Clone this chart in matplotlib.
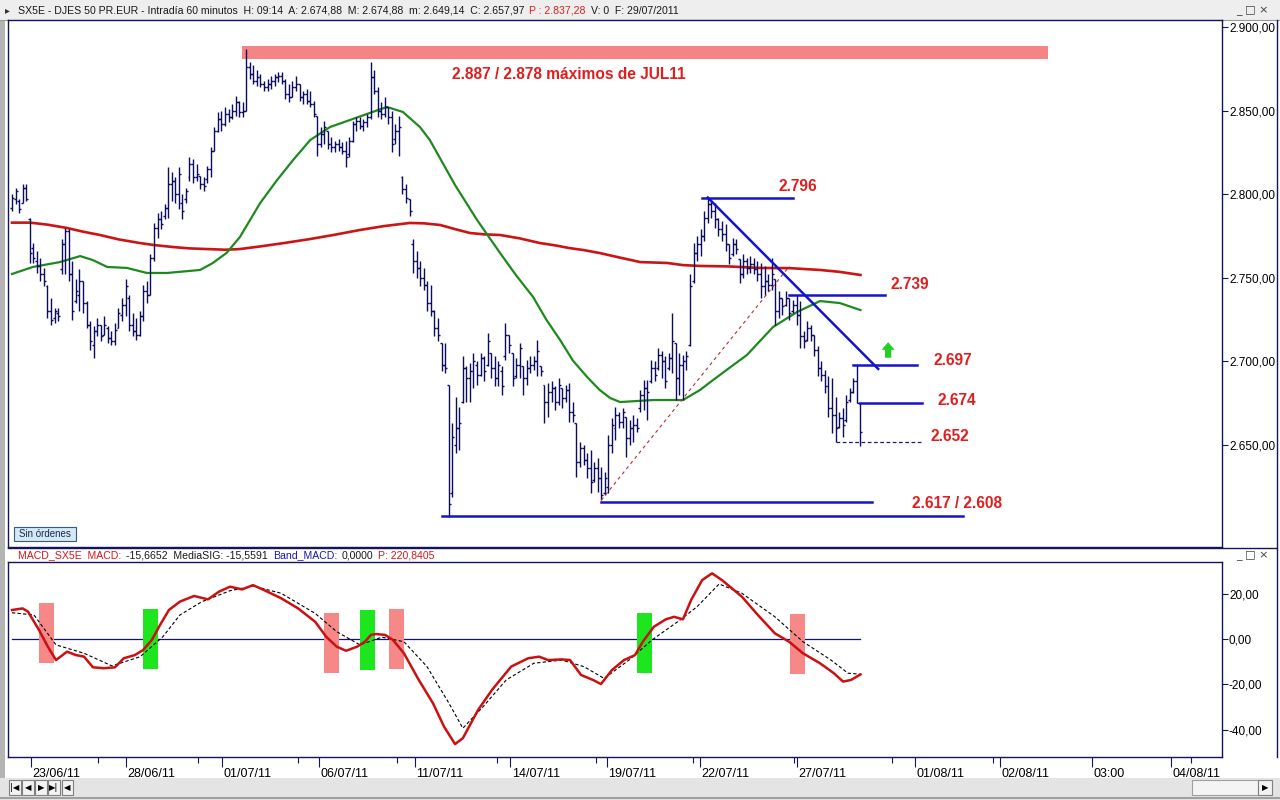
import matplotlib
matplotlib.use('Agg')
import matplotlib.pyplot as plt
import matplotlib.transforms as mtrans
from matplotlib.patches import Rectangle
from matplotlib.ticker import FuncFormatter
import numpy as np

plt.rcParams['font.family'] = ['Liberation Sans', 'DejaVu Sans']

# ---------------- data (hourly OHLC bars, SX5E) ----------------
high = [2800, 2804, 2797, 2806, 2806, 2786, 2771, 2766, 2762, 2756,
        2746, 2738, 2732, 2732, 2773, 2780, 2779, 2760, 2749, 2755,
        2748, 2736, 2724, 2721, 2726, 2722, 2727, 2721, 2718, 2723,
        2732, 2738, 2749, 2740, 2729, 2726, 2730, 2746, 2748, 2764,
        2783, 2789, 2790, 2794, 2816, 2813, 2810, 2816, 2800, 2804,
        2822, 2821, 2818, 2811, 2810, 2817, 2828, 2840, 2849, 2850,
        2852, 2851, 2854, 2859, 2856, 2855, 2887, 2879, 2877, 2874,
        2872, 2868, 2869, 2871, 2872, 2873, 2873, 2869, 2866, 2868,
        2871, 2866, 2862, 2863, 2862, 2856, 2847, 2840, 2844, 2838,
        2834, 2832, 2833, 2831, 2832, 2834, 2844, 2846, 2846, 2845,
        2848, 2879, 2874, 2864, 2855, 2858, 2852, 2850, 2842, 2847,
        2811, 2806, 2797, 2773, 2766, 2760, 2756, 2748, 2746, 2731,
        2726, 2711, 2711, 2686, 2663, 2679, 2673, 2703, 2697, 2699,
        2705, 2700, 2705, 2703, 2717, 2705, 2703, 2700, 2697, 2723,
        2716, 2705, 2702, 2711, 2697, 2701, 2703, 2703, 2713, 2697,
        2686, 2687, 2688, 2685, 2690, 2684, 2686, 2687, 2676, 2663,
        2652, 2650, 2645, 2647, 2640, 2642, 2637, 2634, 2656, 2666,
        2673, 2670, 2672, 2667, 2665, 2668, 2666, 2683, 2689, 2689,
        2701, 2700, 2708, 2706, 2703, 2705, 2729, 2711, 2705, 2704,
        2706, 2752, 2771, 2775, 2779, 2790, 2798, 2796, 2795, 2786,
        2784, 2782, 2770, 2774, 2773, 2761, 2764, 2762, 2763, 2762,
        2760, 2759, 2757, 2752, 2762, 2749, 2742, 2738, 2742, 2738,
        2737, 2740, 2736, 2718, 2724, 2722, 2716, 2709, 2700, 2695,
        2691, 2690, 2679, 2670, 2672, 2680, 2684, 2690, 2698, 2674.88]
low = [2790, 2794, 2789, 2795, 2796, 2759, 2759, 2753, 2748, 2745,
       2726, 2722, 2723, 2724, 2752, 2752, 2748, 2725, 2735, 2730,
       2729, 2720, 2707, 2702, 2715, 2712, 2716, 2711, 2710, 2710,
       2720, 2724, 2727, 2718, 2715, 2713, 2715, 2724, 2735, 2740,
       2760, 2774, 2779, 2785, 2786, 2796, 2795, 2791, 2785, 2795,
       2808, 2807, 2808, 2803, 2802, 2807, 2810, 2826, 2837, 2838,
       2841, 2843, 2845, 2847, 2846, 2846, 2850, 2869, 2866, 2865,
       2864, 2862, 2862, 2863, 2865, 2867, 2866, 2857, 2855, 2858,
       2862, 2856, 2854, 2854, 2852, 2846, 2823, 2828, 2830, 2827,
       2825, 2825, 2826, 2824, 2816, 2822, 2831, 2838, 2839, 2838,
       2840, 2845, 2860, 2846, 2845, 2846, 2842, 2825, 2830, 2823,
       2800, 2795, 2787, 2753, 2750, 2745, 2743, 2730, 2727, 2715,
       2712, 2694, 2693, 2607, 2619, 2645, 2647, 2675, 2676, 2676,
       2684, 2686, 2691, 2688, 2697, 2690, 2685, 2685, 2680, 2701,
       2705, 2685, 2690, 2690, 2680, 2686, 2693, 2695, 2691, 2691,
       2663, 2667, 2676, 2671, 2674, 2672, 2676, 2664, 2664, 2631,
       2637, 2638, 2630, 2621, 2628, 2622, 2617, 2620, 2621, 2645,
       2653, 2660, 2660, 2643, 2650, 2652, 2658, 2670, 2671, 2665,
       2687, 2688, 2695, 2690, 2684, 2695, 2693, 2677, 2680, 2677,
       2695, 2709, 2747, 2760, 2763, 2772, 2783, 2786, 2780, 2775,
       2772, 2766, 2758, 2763, 2764, 2747, 2750, 2752, 2753, 2752,
       2748, 2738, 2740, 2742, 2743, 2722, 2726, 2728, 2733, 2725,
       2729, 2722, 2708, 2708, 2712, 2712, 2703, 2691, 2688, 2681,
       2667, 2657, 2652, 2660, 2655, 2664, 2676, 2681, 2675, 2649.14]
open_ = [2792, 2797, 2796, 2795, 2804, 2785, 2768, 2760, 2757, 2752,
         2745, 2730, 2726, 2729, 2755, 2770, 2778, 2752, 2736, 2740,
         2748, 2735, 2722, 2710, 2718, 2722, 2716, 2720, 2714, 2712,
         2720, 2728, 2734, 2738, 2722, 2718, 2716, 2727, 2742, 2740,
         2762, 2780, 2785, 2787, 2792, 2806, 2808, 2800, 2795, 2797,
         2810, 2818, 2810, 2811, 2806, 2809, 2815, 2826, 2838, 2845,
         2842, 2848, 2846, 2850, 2855, 2849, 2850, 2876, 2872, 2868,
         2870, 2866, 2864, 2866, 2868, 2870, 2871, 2868, 2860, 2858,
         2864, 2866, 2858, 2860, 2856, 2854, 2847, 2830, 2836, 2838,
         2830, 2828, 2830, 2828, 2826, 2824, 2832, 2842, 2844, 2841,
         2843, 2846, 2870, 2862, 2850, 2848, 2852, 2846, 2833, 2838,
         2810, 2803, 2797, 2770, 2760, 2756, 2750, 2746, 2735, 2730,
         2720, 2711, 2698, 2686, 2621, 2650, 2660, 2676, 2696, 2690,
         2694, 2698, 2692, 2702, 2698, 2705, 2696, 2690, 2694, 2703,
         2716, 2705, 2691, 2698, 2697, 2690, 2696, 2698, 2700, 2697,
         2686, 2676, 2682, 2684, 2676, 2684, 2678, 2683, 2670, 2663,
         2640, 2648, 2641, 2636, 2629, 2636, 2630, 2621, 2625, 2650,
         2660, 2668, 2664, 2667, 2654, 2660, 2662, 2672, 2680, 2684,
         2688, 2696, 2696, 2704, 2700, 2696, 2702, 2711, 2690, 2698,
         2700, 2710, 2748, 2765, 2770, 2775, 2786, 2794, 2790, 2785,
         2779, 2776, 2770, 2764, 2770, 2761, 2752, 2760, 2756, 2758,
         2755, 2752, 2745, 2748, 2746, 2749, 2730, 2738, 2734, 2738,
         2730, 2734, 2728, 2715, 2713, 2720, 2716, 2707, 2696, 2692,
         2685, 2672, 2668, 2661, 2666, 2665, 2677, 2682, 2688, 2674.88]
close = [2798, 2802, 2791, 2804, 2797, 2765, 2762, 2757, 2752, 2748,
         2730, 2725, 2730, 2727, 2770, 2778, 2752, 2730, 2742, 2748,
         2735, 2722, 2712, 2718, 2722, 2715, 2722, 2714, 2712, 2719,
         2729, 2734, 2745, 2722, 2718, 2716, 2727, 2742, 2740, 2762,
         2780, 2785, 2782, 2792, 2806, 2808, 2800, 2812, 2790, 2802,
         2818, 2810, 2812, 2806, 2805, 2815, 2826, 2838, 2845, 2842,
         2848, 2846, 2850, 2855, 2849, 2850, 2876, 2872, 2868, 2870,
         2866, 2864, 2866, 2868, 2870, 2871, 2868, 2860, 2858, 2864,
         2866, 2858, 2860, 2856, 2854, 2848, 2830, 2836, 2840, 2830,
         2828, 2830, 2828, 2826, 2822, 2832, 2842, 2844, 2841, 2843,
         2846, 2870, 2862, 2850, 2848, 2852, 2846, 2830, 2838, 2840,
         2803, 2798, 2790, 2760, 2756, 2750, 2746, 2735, 2730, 2720,
         2716, 2698, 2696, 2615, 2655, 2660, 2663, 2696, 2690, 2694,
         2700, 2692, 2702, 2694, 2712, 2696, 2690, 2698, 2685, 2716,
         2710, 2690, 2698, 2708, 2690, 2696, 2698, 2700, 2706, 2694,
         2676, 2682, 2684, 2676, 2686, 2678, 2683, 2670, 2668, 2640,
         2648, 2641, 2636, 2628, 2636, 2630, 2620, 2630, 2650, 2662,
         2668, 2664, 2670, 2654, 2660, 2662, 2660, 2680, 2684, 2682,
         2696, 2692, 2704, 2700, 2688, 2702, 2712, 2690, 2698, 2700,
         2703, 2745, 2765, 2770, 2775, 2786, 2794, 2790, 2785, 2779,
         2776, 2770, 2762, 2770, 2767, 2752, 2760, 2756, 2758, 2755,
         2752, 2745, 2748, 2746, 2752, 2730, 2738, 2733, 2738, 2729,
         2734, 2728, 2715, 2712, 2720, 2716, 2707, 2696, 2692, 2685,
         2672, 2668, 2660, 2666, 2662, 2676, 2682, 2688, 2675, 2657.97]

# moving averages (bar index, price)
ma_red_idx = [0, 5.1, 10, 15.5, 20, 24.8, 30, 36, 40, 45.4, 50, 55, 60,
              64.2, 70, 76, 84, 91, 98, 105, 112, 116, 120.6, 125, 129,
              133, 137.5, 143, 148.7, 153, 157, 161, 165.6, 171, 177,
              184.5, 189, 193.8, 202, 210.7, 219, 227.6, 233, 239]
ma_red_val = [2783.0, 2783.0, 2781.8, 2779.8, 2777.6, 2775.6, 2773.0, 2770.8,
              2769.6, 2768.4, 2767.6, 2767.2, 2766.8, 2767.2, 2768.8, 2770.6,
              2773.2, 2775.8, 2778.6, 2781.0, 2782.8, 2782.6, 2781.6, 2779.0,
              2776.8, 2776.0, 2775.6, 2773.6, 2770.8, 2769.4, 2767.8, 2766.6,
              2764.8, 2762.2, 2759.4, 2758.9, 2757.6, 2757.1, 2756.8, 2755.9,
              2755.8, 2754.7, 2753.6, 2751.7]
ma_green_idx = [0, 5.9, 13.5, 19.2, 22.8, 26.8, 32.4, 38, 43.7, 53, 56.6,
                60.5, 64.2, 69.9, 74.5, 79.2, 84, 89.6, 95.2, 100.8, 105.6,
                110.1, 114.9, 117.7, 124.8, 131, 137.5, 142, 146.8, 150.5,
                154.4, 158, 162, 165.5, 168.5, 171.3, 180.6, 189, 193.8,
                197.5, 202, 207, 214.4, 221.1, 227.6, 233.2, 239]
ma_green_val = [2752.3, 2756.5, 2759.4, 2763.0, 2760.6, 2756.5, 2755.9, 2752.9,
                2752.9, 2754.7, 2758.9, 2765.0, 2774.4, 2794.7, 2808.0, 2820.5,
                2832.4, 2840.2, 2844.4, 2848.6, 2852.2, 2849.2, 2840.2, 2832.4,
                2805.5, 2784.6, 2764.8, 2751.5, 2738.5, 2725.0, 2712.8, 2700.5,
                2690.7, 2683.0, 2678.1, 2675.7, 2676.9, 2676.9, 2682.9, 2688.9,
                2696.0, 2703.8, 2720.6, 2729.5, 2736.1, 2734.9, 2730.7]

# MACD panel
macd_idx = [0, 3.0, 4.5, 7.6, 10.1, 12.4, 15.5, 18.0, 20.3, 22.8, 25.9, 29.0,
            31.5, 34.6, 36.9, 39.4, 41.7, 44.2, 47.3, 51.3, 55.2, 58.3, 61.4,
            64.8, 67.9, 71.0, 75.8, 80.6, 85.4, 88.5, 91.5, 94.1, 97.2, 99.4,
            101.1, 102.5, 105.1, 107.3, 110.4, 114.6, 118.6, 121.7, 124.8,
            127.0, 131.3, 135.2, 140.6, 145.4, 148.5, 151.0, 154.9, 157.2,
            160.3, 163.7, 165.9, 169.0, 172.4, 175.5, 177.7, 180.8, 184.2,
            186.5, 189.0, 191.3, 194.4, 197.2, 200.0, 205.6, 210.1, 214.9,
            218.9, 222.8, 227.6, 231.5, 234.1, 236.3, 239]
macd_val = [12.8, 13.5, 12.1, 4.0, -3.4, -9.3, -5.6, -7.1, -7.8, -12.5, -12.9,
            -12.5, -8.5, -7.1, -4.9, -0.4, 6.2, 12.8, 16.5, 19.0, 17.5, 20.9,
            23.1, 21.9, 23.8, 21.6, 18.0, 13.5, 7.6, 1.0, -3.4, -5.2, -3.4,
            -1.2, 1.8, 2.2, 1.8, -0.4, -6.3, -18.1, -28.4, -38.7, -46.4, -43.8,
            -31.3, -22.5, -12.2, -8.5, -7.8, -9.3, -9.0, -9.3, -15.9, -18.1,
            -19.9, -13.7, -9.3, -7.1, -1.2, 5.4, 8.7, 9.8, 8.7, 17.2, 26.0,
            29.0, 26.0, 18.7, 10.6, 2.5, -1.2, -6.3, -10.7, -15.1, -18.8,
            -18.1, -15.67]
sig_idx = [0, 6.2, 12.4, 20.3, 28.2, 36.1, 42.5, 47.3, 53.5, 61.4, 67.9, 75.8,
           85.4, 91.5, 98.0, 104.2, 110.4, 116.9, 123.1, 127.0, 132.7, 139.2,
           147.0, 154.9, 161.1, 166.8, 173.8, 180.3, 188.2, 193.0, 199.2,
           205.6, 214.9, 222.8, 230.7, 235.5, 239]
sig_val = [11.6, 10.6, -2.6, -6.3, -11.9, -7.8, 1.0, 10.6, 16.5, 21.3, 23.4,
           20.2, 11.3, 3.2, -2.6, 0.8, -1.2, -12.2, -28.4, -39.4, -29.9,
           -18.1, -10.7, -9.3, -12.2, -17.4, -9.3, -0.4, 8.4, 14.3, 24.3,
           20.2, 9.8, -1.2, -9.3, -15.1, -15.56]

# MACD crossing highlight boxes: left bar index, top, bottom, kind
box_left = [7.6, 36.9, 87.9, 98.0, 106.2, 176.1, 219.2]
box_top = [15.9, 13.2, 11.5, 12.8, 13.2, 11.5, 11.0]
box_bottom = [-10.6, -13.2, -15.0, -13.7, -13.2, -15.0, -15.5]
box_kind = ['sell', 'buy', 'sell', 'buy', 'sell', 'buy', 'sell']

# x axis labels
date_labels = ['23/06/11', '28/06/11', '01/07/11', '06/07/11', '11/07/11',
               '14/07/11', '19/07/11', '22/07/11', '27/07/11', '01/08/11',
               '02/08/11', '03:00', '04/08/11']
date_pos = [5.35, 32.1, 59.2, 86.5, 113.5, 140.3, 167.6, 193.8, 221.1,
            254.4, 278.3, 304.2, 326.5]
minor_pos = [24.2, 52.4, 80.6, 108.5, 136.6, 164.5, 191.8, 220.3, 247.9,
             276.3, 332.1]

# ---------------- figure ----------------
W, H = 1280, 800
fig = plt.figure(figsize=(12.8, 8), dpi=100, facecolor='white')

def fx(px):
    return px / W

def fy(py):
    return 1 - py / H

bg = fig.add_axes([0, 0, 1, 1], zorder=-10)
bg.set_xlim(0, W)
bg.set_ylim(H, 0)
bg.axis('off')

GRAY = '#E4E4E4'
NAVY = '#14145A'
# header band
bg.add_patch(Rectangle((0, 0), W, 20, facecolor='#EEEEEE', edgecolor='none'))
bg.plot([0, W], [20, 20], color='#9A9A9A', lw=0.8)
# left strip
bg.add_patch(Rectangle((0, 20), 5, 760, facecolor='#B4B4B4', edgecolor='none'))
# bottom band
bg.add_patch(Rectangle((0, 778), W, 22, facecolor=GRAY, edgecolor='none'))
bg.plot([0, W], [798, 798], color='#A0A0A0', lw=1.5)
# outer right frame
bg.plot([1277, 1277], [20, 757], color=NAVY, lw=1.0)
bg.plot([8, 1277], [547.5, 547.5], color=NAVY, lw=1.0)

# header text (chained pieces)
def chain(pieces, x, y, size):
    t = bg.text(x, y, pieces[0][0], color=pieces[0][1], fontsize=size,
                ha='left', va='center')
    prev = t
    for s, c in pieces[1:]:
        prev = bg.annotate(s, xy=(1, 0.5), xycoords=prev, xytext=(3.5, 0),
                           textcoords='offset points', ha='left', va='center',
                           color=c, fontsize=size)

bg.text(7, 10, '▸', fontsize=7, color='#303030', ha='center', va='center',
        family='DejaVu Sans')
chain([('SX5E - DJES 50 PR.EUR - Intradía 60 minutos  H: 09:14  A: 2.674,88  '
        'M: 2.674,88  m: 2.649,14  C: 2.657,97', '#1A1A1A'),
       ('P : 2.837,28', '#E02020'),
       ('V: 0  F: 29/07/2011', '#1A1A1A')], 18, 10.5, 7.6)
chain([('MACD_SX5E  MACD:', '#D81818'),
       ('-15,6652  MediaSIG: -15,5591', '#1A1A1A'),
       ('Band_MACD:', '#1818B0'),
       ('0,0000', '#1A1A1A'),
       ('P: 220,8405', '#D81818')], 18, 555, 7.6)
for yy in (10, 555):
    bg.text(1252, yy, '_ □ ×', fontsize=8, color='#404040', ha='center',
            va='center', family='DejaVu Sans')

# navigation buttons
for i, g in enumerate(['|◀', '◀', '▶', '▶|']):
    bx = 9 + i * 13
    bg.add_patch(Rectangle((bx, 780), 12, 15, facecolor='#F2F2F2',
                           edgecolor='#808080', lw=0.8))
    bg.text(bx + 6, 787.5, g, fontsize=6, ha='center', va='center',
            family='DejaVu Sans', color='black')
bg.add_patch(Rectangle((62, 780), 11, 15, facecolor='#F2F2F2',
                       edgecolor='#808080', lw=0.8))
bg.text(67.5, 787.5, '◀', fontsize=6, ha='center', va='center',
        family='DejaVu Sans')
bg.add_patch(Rectangle((1192, 780), 66, 15, facecolor='#F4F4F4',
                       edgecolor='#A0A0A0', lw=0.8))
bg.add_patch(Rectangle((1258, 780), 14, 15, facecolor='#F2F2F2',
                       edgecolor='#808080', lw=0.8))
bg.text(1265, 787.5, '▶', fontsize=6, ha='center', va='center',
        family='DejaVu Sans')

# ---------------- price panel ----------------
XL = ((8 - 12) / 3.55, (1222 - 12) / 3.55)
ax = fig.add_axes([fx(8), fy(547), fx(1222) - fx(8), fy(20) - fy(547)])
ax.set_facecolor('white')
ax.set_xlim(*XL)
ax.set_ylim(2589.0, 2904.2)

def es_fmt(v, pos=None):
    s = f"{v:,.2f}"
    return s.replace(',', 'X').replace('.', ',').replace('X', '.')

for sp in ax.spines.values():
    sp.set_color(NAVY)
    sp.set_linewidth(1.0)
ax.yaxis.tick_right()
ax.set_yticks([2650, 2700, 2750, 2800, 2850, 2900])
ax.yaxis.set_major_formatter(FuncFormatter(es_fmt))
ax.tick_params(axis='y', direction='out', length=4, width=0.8, color=NAVY,
               labelsize=8.5, labelcolor='black', pad=1)
ax.set_xticks([])

# resistance band
ax.add_patch(Rectangle((64.8, 2880.9), 291.8 - 64.8, 2888.6 - 2880.9,
                       facecolor='#F58484', edgecolor='none', zorder=1))
ax.text(124, 2871.9, '2.887 / 2.878 máximos de JUL11', color='#E01E1E',
        fontsize=11.2, fontweight='bold', ha='left', va='center')

# moving averages
ax.plot(ma_red_idx, ma_red_val, color='#CC1414', lw=1.9, zorder=2)
ax.plot(ma_green_idx, ma_green_val, color='#1E8A1E', lw=1.6, zorder=2)

# OHLC bars
xb = np.arange(len(high))
BAR = '#0C0C5C'
ax.vlines(xb, low, high, color=BAR, lw=1.0, zorder=3)
ax.hlines(open_, xb - 0.55, xb, color=BAR, lw=1.0, zorder=3)
ax.hlines(close, xb, xb + 0.55, color=BAR, lw=1.0, zorder=3)

# support / resistance lines
BLUE = '#1414C8'
ax.plot([194.5, 220], [2797.5, 2797.5], color=BLUE, lw=1.8, zorder=4)
ax.plot([196, 244], [2798, 2695.5], color=BLUE, lw=1.8, zorder=4)
ax.plot([219, 246], [2739.8, 2739.8], color=BLUE, lw=1.8, zorder=4)
ax.plot([237, 255], [2698, 2698], color=BLUE, lw=1.8, zorder=4)
ax.plot([239, 256.3], [2674.9, 2674.9], color=BLUE, lw=1.8, zorder=4)
ax.plot([232, 256], [2652, 2652], color='#1A1A80', lw=0.9, ls=(0, (3, 2)),
        zorder=4)
ax.plot([166, 242.3], [2616, 2616], color=BLUE, lw=1.8, zorder=4)
ax.plot([121, 268], [2607.5, 2607.5], color=BLUE, lw=1.8, zorder=4)
ax.plot([166, 219], [2617, 2757], color='#B03030', lw=0.8, ls=(0, (3, 3)),
        zorder=4)

RED = '#E01E1E'
for xi, yi, s in [(215.8, 2804.9, '2.796'), (247.6, 2746.3, '2.739'),
                  (259.7, 2700.8, '2.697'), (260.8, 2676.9, '2.674'),
                  (258.6, 2654.8, '2.652'), (253.5, 2615.3, '2.617 / 2.608')]:
    ax.text(xi, yi, s, color=RED, fontsize=11.2, fontweight='bold',
            ha='left', va='center')

ax.annotate('', xy=(246.8, 2711.5), xytext=(246.8, 2702.2),
            arrowprops=dict(arrowstyle='simple,head_length=0.55,head_width=0.95,tail_width=0.45',
                            color='#22D022', lw=0, shrinkA=0, shrinkB=0))

# "Sin órdenes" button
ax.add_patch(Rectangle((14, 527), 62, 14, transform=bg.transData,
                       facecolor='#D4E8F6', edgecolor='#3A5A7A', lw=0.8,
                       zorder=6, clip_on=False))
ax.text(45, 534, 'Sin órdenes', transform=bg.transData, fontsize=7,
        color='#1A2A4A', ha='center', va='center', zorder=7)

# ---------------- MACD panel ----------------
ax2 = fig.add_axes([fx(8), fy(757), fx(1222) - fx(8), fy(562) - fy(757)])
ax2.set_xlim(*XL)
ax2.set_ylim(-52.1, 34.0)
for sp in ax2.spines.values():
    sp.set_color(NAVY)
    sp.set_linewidth(1.0)
ax2.yaxis.tick_right()
ax2.set_yticks([-40, -20, 0, 20])
ax2.yaxis.set_major_formatter(FuncFormatter(es_fmt))
ax2.tick_params(axis='y', direction='out', length=4, width=0.8, color=NAVY,
                labelsize=8.5, labelcolor='black', pad=1)

ax2.plot([0, 239], [0, 0], color='#10108A', lw=0.9, zorder=1)
for bl, bt, bb, k in zip(box_left, box_top, box_bottom, box_kind):
    ax2.add_patch(Rectangle((bl, bb), 4.2, bt - bb,
                            facecolor='#F78888' if k == 'sell' else '#1EE61E',
                            edgecolor='none', zorder=2))
ax2.plot(sig_idx, sig_val, color='black', lw=0.8, ls=(0, (3, 2)), zorder=3)
ax2.plot(macd_idx, macd_val, color='#CC1010', lw=1.8, zorder=4)

ax2.set_xticks(date_pos)
ax2.set_xticklabels(date_labels)
ax2.set_xticks(minor_pos, minor=True)
ax2.tick_params(axis='x', which='major', direction='out', length=7.5,
                width=0.8, color=NAVY, labelsize=9, labelcolor='black',
                pad=0.3)
ax2.tick_params(axis='x', which='minor', direction='out', length=4,
                width=0.8, color=NAVY)
offset = mtrans.ScaledTranslation(1.5 / 100, 0, fig.dpi_scale_trans)
for lbl in ax2.get_xticklabels():
    lbl.set_ha('left')
    lbl.set_transform(lbl.get_transform() + offset)

fig.savefig('out.png', dpi=100, facecolor=fig.get_facecolor())
